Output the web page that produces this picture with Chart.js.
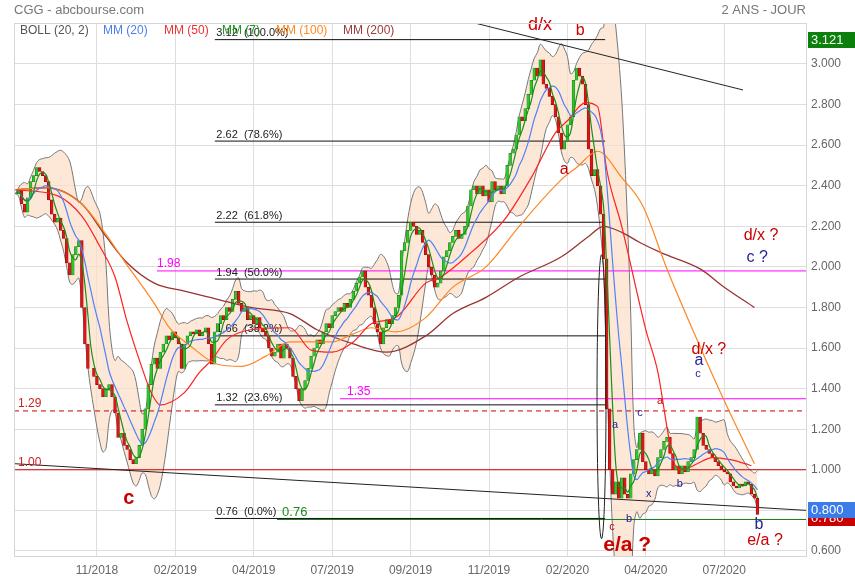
<!DOCTYPE html>
<html lang="fr">
<head>
<meta charset="UTF-8">
<title>CGG - abcbourse.com</title>
<script src="https://cdn.jsdelivr.net/npm/chart.js@4.4.0/dist/chart.umd.min.js"></script>
<style>
  body { margin: 0; background: #fff; }
</style>
</head>
<body>
<canvas id="cours" width="855" height="580"></canvas>
<script>
// cours de cloture, un point tous les 2 jours de bourse
const closes = [
  2.36, 2.38, 2.31, 2.27, 2.34, 2.42, 2.45, 2.49, 2.47, 2.45,
  2.42, 2.33, 2.26, 2.22, 2.24, 2.18, 2.14, 2.02, 1.96, 2.06,
  2.10, 2.13, 1.80, 1.62, 1.50, 1.50, 1.46, 1.42, 1.40, 1.36,
  1.40, 1.42, 1.36, 1.28, 1.16, 1.18, 1.12, 1.10, 1.05, 1.03,
  1.06, 1.12, 1.20, 1.30, 1.42, 1.52, 1.55, 1.50, 1.58, 1.62,
  1.66, 1.64, 1.68, 1.65, 1.62, 1.50, 1.62, 1.66, 1.68, 1.67,
  1.69, 1.66, 1.68, 1.70, 1.62, 1.52, 1.68, 1.72, 1.76, 1.74,
  1.80, 1.78, 1.84, 1.88, 1.82, 1.78, 1.80, 1.74, 1.76, 1.72,
  1.75, 1.70, 1.68, 1.66, 1.60, 1.56, 1.58, 1.62, 1.55, 1.62,
  1.60, 1.55, 1.46, 1.40, 1.34, 1.40, 1.44, 1.50, 1.56, 1.60,
  1.64, 1.62, 1.68, 1.72, 1.70, 1.76, 1.78, 1.80, 1.78, 1.82,
  1.80, 1.84, 1.88, 1.92, 1.95, 1.98, 1.90, 1.86, 1.80, 1.72,
  1.68, 1.62, 1.70, 1.74, 1.72, 1.76, 1.80, 1.86, 2.08, 2.12,
  2.18, 2.22, 2.20, 2.16, 2.18, 2.12, 2.06, 2.00, 1.96, 1.90,
  1.92, 1.98, 2.05, 2.08, 2.12, 2.15, 2.18, 2.14, 2.16, 2.20,
  2.30, 2.38, 2.40, 2.36, 2.40, 2.35, 2.38, 2.32, 2.42, 2.38,
  2.40, 2.36, 2.40, 2.50, 2.56, 2.58, 2.65, 2.74, 2.72, 2.78,
  2.85, 2.92, 2.98, 2.94, 3.02, 2.90, 2.88, 2.84, 2.80, 2.74,
  2.66, 2.58, 2.62, 2.70, 2.74, 2.92, 2.98, 2.94, 2.90, 2.80,
  2.58, 2.45, 2.48, 2.40, 2.26, 2.04, 1.30, 1.00, 0.88, 0.94,
  0.86, 0.96, 0.88, 0.86, 0.98, 1.05, 1.10, 1.18, 1.04, 1.00,
  0.98, 1.00, 0.97, 1.06, 1.10, 1.14, 1.16, 1.08, 1.00, 1.02,
  0.98, 1.02, 0.99, 1.04, 1.06, 1.10, 1.26, 1.18, 1.12, 1.10,
  1.08, 1.06, 1.04, 1.02, 1.00, 0.99, 0.98, 0.94, 0.92, 0.91,
  0.93, 0.92, 0.94, 0.93, 0.88, 0.86, 0.78
];

// moyennes longues (indice du point, valeur)
const mm50Idx = [0, 14, 22, 28, 33, 37, 42, 45, 48, 56, 61, 65, 70, 78, 91, 98, 105, 112, 118, 126, 136, 141, 151, 162, 171, 179, 183, 189, 193, 196, 201, 209, 213, 216, 218, 221, 226, 231, 237, 242, 244];
const mm50Val = [2.38, 2.35, 2.25, 2.10, 1.95, 1.73, 1.50, 1.38, 1.32, 1.38, 1.48, 1.54, 1.64, 1.69, 1.70, 1.59, 1.58, 1.63, 1.72, 1.75, 1.92, 1.95, 2.07, 2.23, 2.44, 2.66, 2.72, 2.81, 2.79, 2.48, 2.20, 1.69, 1.48, 1.21, 1.05, 1.00, 1.03, 1.06, 1.05, 1.03, 1.02];
const mm100Idx = [0, 10, 22, 30, 36, 46, 51, 58, 67, 75, 83, 91, 105, 112, 118, 126, 136, 145, 156, 167, 181, 186, 193, 201, 208, 216, 226, 235, 245];
const mm100Val = [2.38, 2.39, 2.31, 2.16, 2.03, 1.82, 1.70, 1.61, 1.52, 1.51, 1.56, 1.63, 1.63, 1.67, 1.70, 1.68, 1.75, 1.90, 2.00, 2.20, 2.43, 2.49, 2.57, 2.44, 2.30, 1.99, 1.64, 1.34, 1.03];
const mm200Idx = [0, 10, 22, 30, 37, 46, 56, 67, 78, 91, 100, 112, 123, 136, 145, 156, 167, 181, 190, 195, 201, 207, 214, 227, 235, 245];
const mm200Val = [2.38, 2.39, 2.31, 2.15, 2.02, 1.92, 1.88, 1.84, 1.80, 1.77, 1.69, 1.62, 1.58, 1.66, 1.77, 1.85, 1.95, 2.05, 2.15, 2.20, 2.17, 2.12, 2.07, 1.99, 1.90, 1.80];

// axes
const xTickPos = [27, 53, 79, 105, 131, 157, 183, 209, 235];
const xTickLabels = ['11/2018', '02/2019', '04/2019', '07/2019', '09/2019', '11/2019', '02/2020', '04/2020', '07/2020'];
const yTicks = [0.6, 0.8, 1.0, 1.2, 1.4, 1.6, 1.8, 2.0, 2.2, 2.4, 2.6, 2.8, 3.0];

// retracements de Fibonacci
const fibVals = [3.12, 2.62, 2.22, 1.94, 1.66, 1.32, 0.76];
const fibLabels = ['3.12  (100.0%)', '2.62  (78.6%)', '2.22  (61.8%)', '1.94  (50.0%)', '1.66  (38.2%)', '1.32  (23.6%)', '0.76  (0.0%)'];

// moyennes et bandes de Bollinger calculees sur les clotures (20 j = 10 points)
function moyenne(arr, n) {
  return arr.map((v, i) => {
    const w = arr.slice(Math.max(0, i - n + 1), i + 1);
    return w.reduce((a, b) => a + b, 0) / w.length;
  });
}
const mm20 = moyenne(closes, 10);
const mm7 = moyenne(closes, 4);
const bollHaut = [], bollBas = [];
closes.forEach((v, i) => {
  const w = closes.slice(Math.max(0, i - 9), i + 1);
  const m = mm20[i];
  const sd = Math.sqrt(w.reduce((a, b) => a + (b - m) * (b - m), 0) / w.length);
  bollHaut.push(m + 2 * sd);
  bollBas.push(m - 2 * sd);
});

const pts = (arr) => arr.map((v, i) => ({ x: i, y: v }));
const ptsIdx = (idx, val) => idx.map((k, i) => ({ x: k, y: val[i] }));

const bougies = closes.map((c, i) => ({ x: i, y: [i > 0 ? closes[i - 1] : c, c] }));
const baisse = closes.map((c, i) => i > 0 && c < closes[i - 1]);

Chart.defaults.font.family = "'Liberation Sans', Arial, sans-serif";

const dessins = {
  id: 'dessins',
  afterDatasetDraw(chart, args) {
    if (args.index !== 1) return;
    const ctx = chart.ctx, a = chart.chartArea;
    const X = (k) => chart.scales.x.getPixelForValue(k);
    const Y = (v) => chart.scales.y.getPixelForValue(v);
    ctx.save();
    ctx.beginPath(); ctx.rect(a.left, a.top, a.right - a.left, a.bottom - a.top); ctx.clip();
    const ligne = (x1, y1, x2, y2, col, w, dash) => {
      ctx.beginPath(); ctx.strokeStyle = col; ctx.lineWidth = w; ctx.setLineDash(dash || []);
      ctx.moveTo(x1, y1); ctx.lineTo(x2, y2); ctx.stroke(); ctx.setLineDash([]);
    };
    // niveaux horizontaux
    ligne(a.left, Y(1.29), a.right, Y(1.29), '#cc0000', 1, [5, 4]);
    ligne(a.left, Y(1.00), a.right, Y(1.00), '#cc0000', 1);
    ligne(X(46.9), Y(1.98), a.right, Y(1.98), '#ff00ff', 1);
    ligne(X(107.6), Y(1.35), a.right, Y(1.35), '#ff00ff', 1);
    ligne(X(86.7), Y(0.755), a.right, Y(0.755), '#1a7a1a', 1);
    // oblique basse
    ligne(X(-0.5), Y(1.03), X(262.1), Y(0.80), '#222', 1);
    // Fibonacci
    ctx.font = '11px "Liberation Sans", Arial';
    ctx.textBaseline = 'bottom'; ctx.textAlign = 'left';
    fibVals.forEach((v, i) => {
      ligne(X(66.1), Y(v), X(195.5), Y(v), '#111', 1);
      ctx.fillStyle = '#222';
      ctx.fillText(fibLabels[i], X(66.6), Y(v) - 1);
    });
    ctx.restore();
  },
  afterDatasetsDraw(chart) {
    const ctx = chart.ctx, a = chart.chartArea;
    const X = (k) => chart.scales.x.getPixelForValue(k);
    const Y = (v) => chart.scales.y.getPixelForValue(v);
    ctx.save();
    ctx.beginPath(); ctx.rect(a.left, a.top, a.right - a.left, a.bottom - a.top); ctx.clip();
    // oblique haute
    ctx.beginPath(); ctx.strokeStyle = '#222'; ctx.lineWidth = 1;
    ctx.moveTo(X(147.4), Y(3.22)); ctx.lineTo(X(241.2), Y(2.872)); ctx.stroke();
    // ellipse autour du krach
    const cy = (Y(2.06) + Y(0.66)) / 2, ry = (Y(0.66) - Y(2.06)) / 2;
    ctx.beginPath(); ctx.ellipse(X(194.3), cy, 4.5, ry, 0, 0, Math.PI * 2); ctx.stroke();
    ctx.restore();

    ctx.save();
    const txt = (s, k, v, col, size, bold) => {
      ctx.font = (bold ? 'bold ' : '') + size + 'px "Liberation Sans", Arial';
      ctx.fillStyle = col; ctx.textAlign = 'center'; ctx.textBaseline = 'middle';
      ctx.fillText(s, X(k), Y(v));
    };
    ctx.font = '12px "Liberation Sans", Arial';
    ctx.textAlign = 'left'; ctx.textBaseline = 'bottom';
    ctx.fillStyle = '#ff00ff';
    ctx.fillText('1.98', X(46.9), Y(1.98) - 1);
    ctx.fillText('1.35', X(109.9), Y(1.35) - 1);
    ctx.fillStyle = '#cc2222';
    ctx.fillText('1.29', a.left + 4, Y(1.29) - 1);
    ctx.fillText('1.00', a.left + 4, Y(1.00) - 1);
    ctx.fillStyle = '#1a8a1a';
    ctx.font = '13px "Liberation Sans", Arial';
    ctx.fillText('0.76', X(88.4), Y(0.755) - 1);

    const rouge = '#cc0000', bleu = '#23239a';
    txt('d/x', 173.9, 3.19, rouge, 18);
    txt('b', 187.2, 3.163, rouge, 16);
    txt('a', 181.9, 2.478, rouge, 16);
    txt('c', 37.6, 0.857, rouge, 20, true);
    txt('e/a ?', 202.8, 0.63, rouge, 21, true);
    txt('d/x ?', 247.2, 2.153, rouge, 16);
    txt('c ?', 245.9, 2.044, bleu, 16);
    txt('d/x ?', 229.9, 1.591, rouge, 16);
    txt('a', 226.6, 1.537, bleu, 16);
    txt('c', 226.3, 1.473, bleu, 11);
    txt('a', 213.7, 1.34, rouge, 11);
    txt('c', 207.1, 1.281, bleu, 11);
    txt('a', 198.8, 1.222, bleu, 11);
    txt('x', 210.0, 0.882, bleu, 11);
    txt('b', 220.3, 0.931, bleu, 11);
    txt('b', 203.4, 0.759, bleu, 11);
    txt('c', 197.8, 0.719, rouge, 11);
    txt('b', 246.5, 0.729, bleu, 16);
    txt('e/a ?', 248.5, 0.65, rouge, 16);
    ctx.restore();
  },
  afterDraw(chart) {
    const ctx = chart.ctx, a = chart.chartArea;
    ctx.save();
    // cadre
    ctx.strokeStyle = '#d6d6d6'; ctx.lineWidth = 1;
    ctx.strokeRect(a.left + 0.5, a.top + 0.5, a.right - a.left, a.bottom - a.top);
    // titre
    ctx.font = '13px "Liberation Sans", Arial';
    ctx.fillStyle = '#777'; ctx.textBaseline = 'middle';
    ctx.textAlign = 'left'; ctx.fillText('CGG - abcbourse.com', 14, 10);
    ctx.textAlign = 'right'; ctx.fillText('2 ANS - JOUR', a.right, 10);
    // legende
    ctx.font = '12px "Liberation Sans", Arial'; ctx.textAlign = 'left';
    [['BOLL (20, 2)', '#555', 20], ['MM (20)', '#4d7cf0', 103], ['MM (50)', '#f03030', 164],
     ['MM (7)', '#1d9a1d', 222], ['MM (100)', '#ff8a20', 276], ['MM (200)', '#9a3a3a', 343]]
      .forEach(([s, c, x]) => { ctx.fillStyle = c; ctx.fillText(s, x, 31); });
    // etiquettes de prix
    const boite = (s, y0, h, fond) => {
      ctx.fillStyle = fond; ctx.fillRect(808, y0, 47, h);
      ctx.fillStyle = '#fff'; ctx.textAlign = 'left'; ctx.textBaseline = 'middle';
      ctx.fillText(s, 811, y0 + 8);
    };
    ctx.font = '13px "Liberation Sans", Arial';
    boite('3.121', 32, 16, '#0b800b');
    boite('0.780', 510, 16, '#c80000');
    boite('0.800', 502, 16, '#3b7ce8');
    ctx.restore();
  }
};

new Chart(document.getElementById('cours'), {
  type: 'line',
  data: {
    datasets: [
      { label: 'haut', data: pts(bollHaut), fill: '+1', backgroundColor: 'rgba(252,222,200,0.7)', borderColor: '#777', borderWidth: 1, pointRadius: 0, tension: 0.35, order: 11 },
      { label: 'bas', data: pts(bollBas), fill: false, borderColor: '#777', borderWidth: 1, pointRadius: 0, tension: 0.35, order: 10 },
      { type: 'bar', label: 'cours', data: bougies,
        backgroundColor: baisse.map(b => b ? '#dd1515' : '#2ec52e'),
        borderColor: baisse.map(b => b ? '#8a1010' : '#1c7a1c'),
        borderWidth: 0.6, borderSkipped: false, barThickness: 2.8, order: 6 },
      { label: 'MM200', data: ptsIdx(mm200Idx, mm200Val), borderColor: '#993333', borderWidth: 1.3, pointRadius: 0, cubicInterpolationMode: 'monotone', order: 5 },
      { label: 'MM100', data: ptsIdx(mm100Idx, mm100Val), borderColor: '#ff8620', borderWidth: 1.2, pointRadius: 0, cubicInterpolationMode: 'monotone', order: 4 },
      { label: 'MM50', data: ptsIdx(mm50Idx, mm50Val), borderColor: '#ff2020', borderWidth: 1.2, pointRadius: 0, cubicInterpolationMode: 'monotone', order: 3 },
      { label: 'MM20', data: pts(mm20), borderColor: '#4f82f5', borderWidth: 1.2, pointRadius: 0, tension: 0.35, order: 2 },
      { label: 'MM7', data: pts(mm7), borderColor: '#189018', borderWidth: 1.2, pointRadius: 0, tension: 0.35, order: 1 }
    ]
  },
  options: {
    responsive: false,
    animation: false,
    layout: { padding: { left: 14, top: 23, right: 0, bottom: 0 } },
    plugins: { legend: { display: false }, tooltip: { enabled: false } },
    scales: {
      x: {
        type: 'linear', min: -0.5, max: 262.1, offset: false,
        grid: { color: '#dedede', drawTicks: false, offset: false },
        border: { display: false },
        afterBuildTicks: (s) => { s.ticks = xTickPos.map(v => ({ value: v })); },
        afterFit: (s) => { s.height = 24; },
        ticks: { autoSkip: false, maxRotation: 0, padding: 7, color: '#666', font: { size: 12 },
                 callback: (v, i) => xTickLabels[i] }
      },
      y: {
        position: 'right', min: 0.575, max: 3.202,
        grid: { color: '#dedede', drawTicks: false },
        border: { display: false },
        afterBuildTicks: (s) => { s.ticks = yTicks.map(v => ({ value: v })); },
        afterFit: (s) => { s.width = 49; },
        ticks: { padding: 5, color: '#666', font: { size: 12 }, callback: (v) => v.toFixed(3) }
      }
    }
  },
  plugins: [dessins]
});
</script>
</body>
</html>
